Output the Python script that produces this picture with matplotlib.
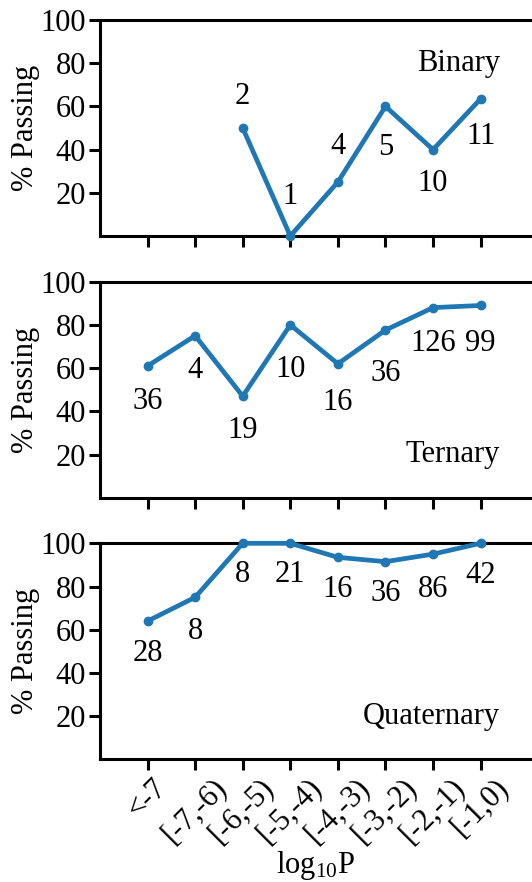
import numpy as np
import matplotlib
matplotlib.use("Agg")
import matplotlib.pyplot as plt

plt.rcParams['font.family'] = ['Liberation Serif', 'DejaVu Serif']
plt.rcParams['mathtext.fontset'] = 'custom'
plt.rcParams['mathtext.rm'] = 'Liberation Serif'
plt.rcParams['mathtext.it'] = 'Liberation Serif'

categories = ['<-7', '[-7,-6)', '[-6,-5)', '[-5,-4)', '[-4,-3)', '[-3,-2)', '[-2,-1)', '[-1,0)']

binary_pct = [np.nan, np.nan, 50, 0, 25, 60, 40, 63.5]
binary_n = ['', '', '2', '1', '4', '5', '10', '11']

ternary_pct = [61, 75, 47, 80, 62, 77.6, 88, 89]
ternary_n = ['36', '4', '19', '10', '16', '36', '126', '99']

quaternary_pct = [64, 75, 100, 100, 93.5, 91.5, 95, 100]
quaternary_n = ['28', '8', '8', '21', '16', '36', '86', '42']

panel_names = ['Binary', 'Ternary', 'Quaternary']

# label offsets in pixels (negative = above)
binary_off = [0, 0, -31, -39, -36, 41, 34, 38]
ternary_off = [36, 35, 34, 45, 39, 43, 36, 38]
quaternary_off = [32, 34, 31, 31, 32, 32, 35, 32]

name_y = [0.80, 0.20, 0.20]

W, H = 532, 882
fig = plt.figure(figsize=(W / 100, H / 100), dpi=100)

color = '#1f77b4'
fs = 22

panels = [
    (binary_pct, binary_n, binary_off),
    (ternary_pct, ternary_n, ternary_off),
    (quaternary_pct, quaternary_n, quaternary_off),
]
bottoms_px = [236, 497.7, 759.3]
x = np.arange(len(categories))

for i, ((vals, ns, offs), bpx) in enumerate(zip(panels, bottoms_px)):
    ax = fig.add_axes([100 / W, 1 - bpx / H, (W - 100) / W, 216 / H])
    ax.plot(x, vals, '-o', color=color, lw=3.4, ms=6, clip_on=False, zorder=3)
    for xi, v, n, o in zip(x, vals, ns, offs):
        if n and not np.isnan(v):
            ax.annotate(n, (xi, v), xytext=(0, -o * 0.72), textcoords='offset points',
                        ha='center', va='center', fontsize=fs)
    ax.set_xlim(-1, 8.08)
    ax.set_ylim(0, 100)
    ax.set_yticks([20, 40, 60, 80, 100])
    ax.set_xticks(x)
    ax.spines['right'].set_visible(False)
    for s in ['left', 'bottom', 'top']:
        ax.spines[s].set_linewidth(2.2)
    ax.tick_params(axis='both', length=8, width=2.2, labelsize=fs, pad=2)
    ax.set_ylabel('% Passing', fontsize=fs, labelpad=0)
    ax.yaxis.set_label_coords(-(100 - 40) / (W - 100), 0.5)
    ax.text((500 - 100) / (W - 100), name_y[i], panel_names[i], transform=ax.transAxes,
            ha='right', va='center', fontsize=fs)
    if i < 2:
        ax.set_xticklabels([])
    else:
        ax.set_xticklabels(categories, rotation=45, fontsize=fs)
        ax.set_xlabel('log$_{10}$P', fontsize=fs, labelpad=0)

fig.savefig('out.png', dpi=100)
